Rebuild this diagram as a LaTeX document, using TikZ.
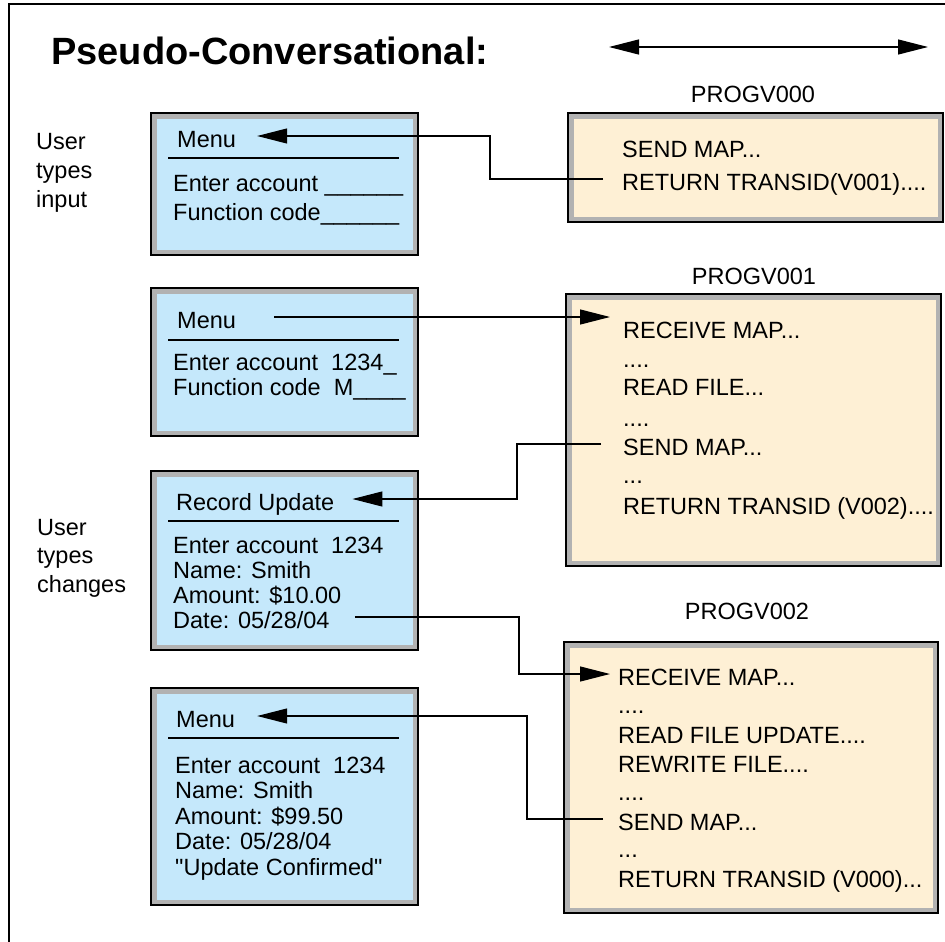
\documentclass[tikz,border=0pt]{standalone}
\usepackage{fontspec}
\setmainfont{Liberation Sans}[Ligatures=TeXOff]
\usetikzlibrary{arrows.meta}
\definecolor{scrblue}{RGB}{197,232,251}
\definecolor{pgmtan}{RGB}{254,240,213}
\definecolor{rimgray}{RGB}{178,178,178}

\begin{document}
\begin{tikzpicture}[x=1pt, y=-1pt,
  >={Triangle[length=30pt,width=15pt]},
  txt/.style={anchor=base west, inner sep=0pt, text height=22pt, text depth=0pt, font=\fontsize{23.5}{28}\selectfont},
  pgmname/.style={anchor=base, inner sep=0pt, font=\fontsize{23.5}{28}\selectfont},
  rim/.style={path picture={\draw[rimgray, line width=11pt] (path picture bounding box.south west) rectangle (path picture bounding box.north east);}, postaction={draw=black, line width=2.8pt}},
  screen/.style={rim, fill=scrblue},
  program/.style={rim, fill=pgmtan},
  link/.style={color=black, line width=1.2pt},
  rule/.style={color=black, line width=2.5pt}]
\useasboundingbox (0,0) rectangle (945,942);
\draw[color=black, line width=1.5pt] (9,942) -- (9,4) -- (945,4);

\node[anchor=base west, inner sep=0pt, font=\fontsize{38}{40}\selectfont\bfseries] (title) at (51,65) {Pseudo-Conversational:};
\coordinate (spanl) at (609,47);
\coordinate (spanr) at (928,47);
\draw[link,<->] (spanl) -- (spanr);

\node[txt] (user1) at (36,149) {User};
\node[txt] (types1) at (36,178) {types};
\node[txt] (input1) at (36,207) {input};
\node[txt] (user2) at (37,535) {User};
\node[txt] (types2) at (37,563) {types};
\node[txt] (chg2) at (37,592) {changes};

\path[screen] (151,113) rectangle (418,255);
\draw[rule] (168,158) -- (399,158);
\node[txt] (l1menu) at (177,147) {Menu};
\node[txt] (l1acct) at (173,191) {Enter account \_\_\_\_\_\_};
\node[txt] (l1func) at (173,220) {Function code\_\_\_\_\_\_};

\path[screen] (151,288) rectangle (418,436);
\draw[rule] (168,340) -- (399,340);
\node[txt] (l2menu) at (177,328) {Menu};
\node[txt] (l2acct) at (173,370) {Enter account\ \ 1234\_};
\node[txt] (l2func) at (173,395) {Function code\ \ M\_\_\_\_};

\path[screen] (151,471) rectangle (418,650);
\draw[rule] (168,521) -- (399,521);
\node[txt] (l3rec) at (176,510) {Record Update};
\node[txt] (l3acct) at (173,553) {Enter account\ \ 1234};
\node[txt] (l3name) at (173,578) {Name: Smith};
\node[txt] (l3amt) at (173,603) {Amount: \$10.00};
\node[txt] (l3date) at (173,628) {Date: 05/28/04};

\path[screen] (151,688) rectangle (418,905);
\draw[rule] (168,738) -- (399,738);
\node[txt] (l4menu) at (176,727) {Menu};
\node[txt] (l4acct) at (175,773) {Enter account\ \ 1234};
\node[txt] (l4name) at (175,798) {Name: Smith};
\node[txt] (l4amt) at (175,824) {Amount: \$99.50};
\node[txt] (l4date) at (175,849) {Date: 05/28/04};
\node[txt] (l4conf) at (175,875) {"Update Confirmed"};

\node[pgmname] (pgm0) at (753,102) {PROGV000};
\path[program] (568,113) rectangle (943,222);
\node[txt] (r1send) at (622,157) {SEND MAP...};
\node[txt] (r1ret) at (622,190) {RETURN TRANSID(V001)....};

\node[pgmname] (pgm1) at (754,284) {PROGV001};
\path[program] (566,294) rectangle (941,566);
\node[txt] (r2rcv) at (623,338) {RECEIVE MAP...};
\node[txt] (r2dot1) at (623,367) {....};
\node[txt] (r2read) at (623,395) {READ FILE...};
\node[txt] (r2dot2) at (623,426) {....};
\node[txt] (r2send) at (623,455) {SEND MAP...};
\node[txt] (r2dot3) at (623,483) {...};
\node[txt] (r2ret) at (623,514) {RETURN TRANSID (V002)....};

\node[pgmname] (pgm2) at (747,619) {PROGV002};
\path[program] (564,642) rectangle (938,913);
\node[txt] (r3rcv) at (618,685) {RECEIVE MAP...};
\node[txt] (r3dot1) at (618,713) {....};
\node[txt] (r3read) at (618,743) {READ FILE UPDATE....};
\node[txt] (r3rew) at (618,772) {REWRITE FILE....};
\node[txt] (r3dot2) at (618,800) {....};
\node[txt] (r3send) at (618,830) {SEND MAP...};
\node[txt] (r3dot3) at (618,857) {...};
\node[txt] (r3ret) at (618,887) {RETURN TRANSID (V000)...};

\draw[link,->, shorten <=19pt, shorten >=21pt] (r1ret.west) -- (490,0 |- r1ret.west) |- (l1menu.east);
\draw[link,->, shorten <=38pt, shorten >=13pt] (l2menu.east) -- (l2menu.east -| r2rcv.west);
\draw[link,->, shorten <=22pt, shorten >=18pt] (r2send.west) -- (517,0 |- r2send.west) |- (l3rec.east);
\draw[link,->, shorten <=25pt, shorten >=8pt] (l3date.east) -- (519,0 |- l3date.east) |- (r3rcv.west);
\draw[link,->, shorten <=15pt, shorten >=22pt] (r3send.west) -- (527,0 |- r3send.west) |- (l4menu.east);
\end{tikzpicture}
\end{document}
